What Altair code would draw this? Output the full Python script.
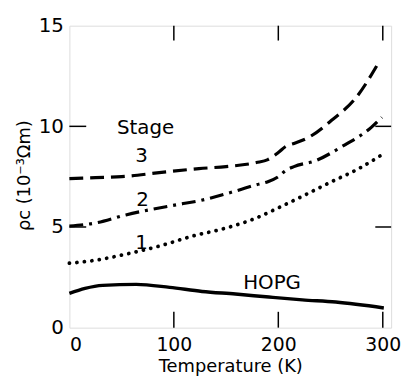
import altair as alt
import pandas as pd

# Stage 3 (dashed)
T3 = [0, 25, 50, 86, 124, 150, 179, 190, 200, 207, 215, 229, 251, 274, 297]
S3 = [7.4, 7.45, 7.5, 7.7, 7.9, 8.0, 8.2, 8.35, 8.7, 9.0, 9.15, 9.45, 10.3, 11.4, 13.25]
# Stage 2 (dash-dot)
T2 = [0, 25, 54, 102, 124, 160, 179, 190, 200, 207, 215, 236, 261, 289, 299]
S2 = [5.05, 5.2, 5.6, 6.1, 6.3, 6.8, 7.1, 7.25, 7.5, 7.8, 8.0, 8.3, 9.0, 9.95, 10.45]
# Stage 1 (dotted)
T1 = [0, 25, 54, 86, 118, 150, 179, 200, 220, 251, 277, 301]
S1 = [3.2, 3.35, 3.65, 4.05, 4.55, 4.95, 5.45, 5.95, 6.45, 7.25, 7.9, 8.65]
# HOPG (solid)
TH = [0, 15, 32, 64, 96, 127, 159, 191, 223, 255, 301]
SH = [1.7, 1.95, 2.1, 2.15, 2.0, 1.8, 1.67, 1.52, 1.38, 1.27, 0.98]

LABELS = ["Stage", "3", "2", "1", "HOPG"]
LABEL_T = [73, 69, 70, 69, 194]
LABEL_R = [9.9, 8.5, 6.35, 4.2, 2.2]

XTICKS = [100, 200, 300]
YTICKS = [5, 10]

W, H = 325, 305
FONT = "DejaVu Sans"

xs = alt.Scale(domain=[0, 308], nice=False)
ys = alt.Scale(domain=[0, 15], nice=False)

def line(T, S, dash, width, cap="butt"):
    df = pd.DataFrame({"T": T, "rho": S})
    kw = dict(color="black", strokeWidth=width, interpolate="monotone", strokeCap=cap)
    if dash:
        kw["strokeDash"] = dash
    return alt.Chart(df).mark_line(**kw).encode(
        x=alt.X("T:Q", scale=xs,
                axis=alt.Axis(title="Temperature (K)", values=[0, 100, 200, 300],
                              ticks=False, domain=False, grid=False,
                              labelFontSize=19, labelFont=FONT, labelColor="black",
                              labelPadding=8, titleFontSize=18, titleFont=FONT,
                              titleFontWeight="normal", titleColor="black", titlePadding=3)),
        y=alt.Y("rho:Q", scale=ys,
                axis=alt.Axis(title="ρc (10⁻³Ωm)", values=[0, 5, 10, 15],
                              ticks=False, domain=False, grid=False,
                              labelFontSize=20, labelFont=FONT, labelColor="black",
                              labelPadding=6, titleFontSize=18, titleFont=FONT,
                              titleFontWeight="normal", titleColor="black",
                              titleX=-36, titleY=151)),
    )

l3 = line(T3, S3, [14, 7], 3.2)
l2 = line(T2, S2, [14, 6, 3, 6], 3.2)
l1 = line(T1, S1, [0.1, 7.5], 3.8, cap="round")
lh = line(TH, SH, None, 3.5)

lab = alt.Chart(pd.DataFrame({"t": LABEL_T, "r": LABEL_R, "s": LABELS})).mark_text(
    font=FONT, fontSize=20, color="black"
).encode(x=alt.X("t:Q", scale=xs), y=alt.Y("r:Q", scale=ys), text="s:N")

xt = pd.DataFrame({"t": XTICKS})
yt = pd.DataFrame({"r": YTICKS})
tick_b = alt.Chart(xt).mark_rule(color="black", strokeWidth=1.5).encode(
    x=alt.X("t:Q", scale=xs), y=alt.value(H), y2=alt.value(H - 16))
tick_t = alt.Chart(xt).mark_rule(color="black", strokeWidth=1.5).encode(
    x=alt.X("t:Q", scale=xs), y=alt.value(0), y2=alt.value(15))
tick_l = alt.Chart(yt).mark_rule(color="black", strokeWidth=1.5).encode(
    y=alt.Y("r:Q", scale=ys), x=alt.value(0), x2=alt.value(17))
tick_r = alt.Chart(yt).mark_rule(color="black", strokeWidth=1.5).encode(
    y=alt.Y("r:Q", scale=ys), x=alt.value(W - 16), x2=alt.value(W))

chart = alt.layer(lh, l1, l2, l3, lab, tick_b, tick_t, tick_l, tick_r).properties(
    width=W, height=H,
    autosize=alt.AutoSizeParams(type="none"),
    padding={"left": 62, "top": 16, "right": 14, "bottom": 50},
).configure_view(stroke="black", strokeWidth=2.2).configure(background="white")

chart.save("out.html", embed_options={"renderer": "svg", "actions": False})
